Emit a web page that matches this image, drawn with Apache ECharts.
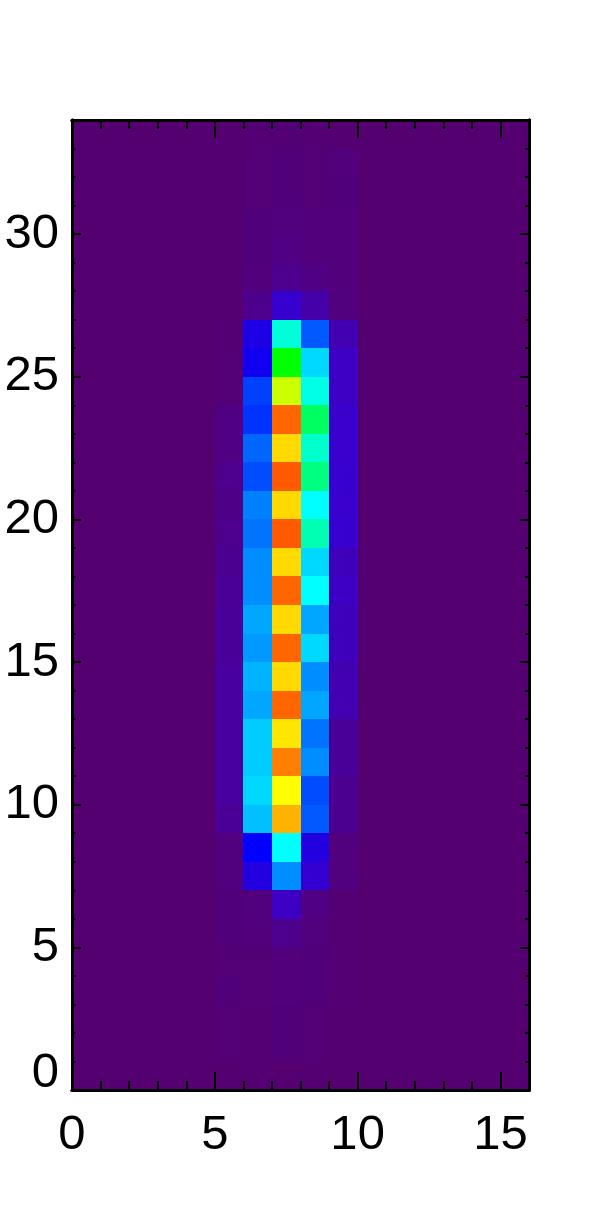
<!DOCTYPE html>
<html>
<head>
<meta charset="utf-8">
<style>html,body{margin:0;padding:0;background:#fff}#c{width:598px;height:1212px}</style>
<script src="https://cdn.jsdelivr.net/npm/echarts@6/dist/echarts.min.js"></script>
</head>
<body>
<div id="c"></div>
<script>
// Each column lists cell values for rows 0..33 (bottom to top); other columns are 0.
const column5 = [0.1,0.7,0.7,1,0.7,1,1,1.5,1.5,4,5,5,5,5,5,4.5,4.5,4,3.5,3,2.5,3,2,2,0.8,0.8,0.5,0.2,0.1,0.1,0.1,0.1,0.1,0.1];
const column6 = [0.2,0.5,0.5,0.7,0.7,1.2,1.5,14,20,35,37,36,36,33,34,32,33,31,31,29,30,26,28,24,25,17,15,3,1.2,1,1,0.7,0.7,0.5];
const column7 = [0.2,1,1,1.2,1.2,3,9,31,40,86,80,90,82,92,83,92,83,92,83,93,83,93,83,92,76,60,43,10.5,3,2,1.5,1,1,0.5];
const column8 = [0.2,0.7,0.7,1,1,1.5,2,11,14,27,26,31,29,33,31,37,33,40,37,46,40,50,44,52.5,42,37,27,6,2,1.2,1.2,0.7,0.7,0.5];
const column9 = [0.1,0.2,0.2,0.4,0.4,0.5,0.5,1.5,1.5,3.5,3.5,4.5,4.5,7,7,8,8,9,8,10.5,10,10.5,10,10,9,9,7,1.5,1.2,1.2,1.2,1,1.2,0.2];
const nonZeroColumns = {5: column5, 6: column6, 7: column7, 8: column8, 9: column9};
const columnCount = 16;
const rowCount = 34;
const xTickLabels = [0, 5, 10, 15];
const yTickLabels = [0, 5, 10, 15, 20, 25, 30];
const colourStops = ['#550070', '#3a00cc', '#0000ff', '#0080ff', '#00ffff', '#00ff80', '#00ff00', '#80ff00', '#ffff00', '#ff8000', '#ff0000'];

const cells = [];
for (let x = 0; x < columnCount; x++) {
  for (let y = 0; y < rowCount; y++) {
    cells.push([x, y, nonZeroColumns[x] ? nonZeroColumns[x][y] : 0]);
  }
}
const ints = n => Array.from({length: n + 1}, (_, i) => i);
const rect = {left: 72, top: 120, width: 457, height: 970};
const font = {fontFamily: '"Liberation Sans", Arial, sans-serif', fontSize: 49, color: '#000', lineHeight: 34};
const line = {show: true, onZero: false, lineStyle: {color: '#000', width: 3}};

function axis(dim, position, gridIndex, max, values, len, labels) {
  return {
    type: 'value', gridIndex, position, min: 0, max, interval: 5, z: 5,
    splitLine: {show: false}, minorTick: {show: false}, axisLine: line,
    axisTick: {show: true, inside: true, length: len, customValues: values,
      lineStyle: {color: '#000', width: 2}},
    axisLabel: labels ? Object.assign({
      show: true, customValues: labels,
      margin: dim === 'x' ? 28 : 13,
      verticalAlignMinLabel: dim === 'y' ? 'bottom' : undefined,
      formatter: v => String(v)
    }, font) : {show: false}
  };
}

const chart = echarts.init(document.getElementById('c'), null, {renderer: 'canvas'});
chart.setOption({
  animation: false,
  backgroundColor: '#fff',
  grid: [Object.assign({}, rect), Object.assign({}, rect)],
  xAxis: [
    axis('x', 'bottom', 0, columnCount, xTickLabels, 18, xTickLabels),
    axis('x', 'top', 0, columnCount, xTickLabels, 18, null),
    axis('x', 'bottom', 1, columnCount, ints(columnCount), 9, null),
    axis('x', 'top', 1, columnCount, ints(columnCount), 9, null)
  ],
  yAxis: [
    axis('y', 'left', 0, rowCount, yTickLabels, 9, yTickLabels),
    axis('y', 'right', 0, rowCount, yTickLabels, 9, null),
    axis('y', 'left', 1, rowCount, ints(rowCount), 4, null),
    axis('y', 'right', 1, rowCount, ints(rowCount), 4, null)
  ],
  visualMap: {show: false, type: 'continuous', min: 0, max: 100, dimension: 2, seriesIndex: 0,
    inRange: {color: colourStops}},
  series: [{
    type: 'custom', xAxisIndex: 0, yAxisIndex: 0, data: cells, clip: true, z: 2,
    encode: {x: 0, y: 1},
    renderItem(params, api) {
      const a = api.coord([api.value(0), api.value(1) + 1]);
      const b = api.coord([api.value(0) + 1, api.value(1)]);
      const x0 = Math.round(a[0]), y0 = Math.round(a[1]);
      return {type: 'rect',
        shape: {x: x0, y: y0, width: Math.round(b[0]) - x0, height: Math.round(b[1]) - y0},
        style: {fill: api.visual('color')}};
    }
  }]
});
</script>
</body>
</html>
